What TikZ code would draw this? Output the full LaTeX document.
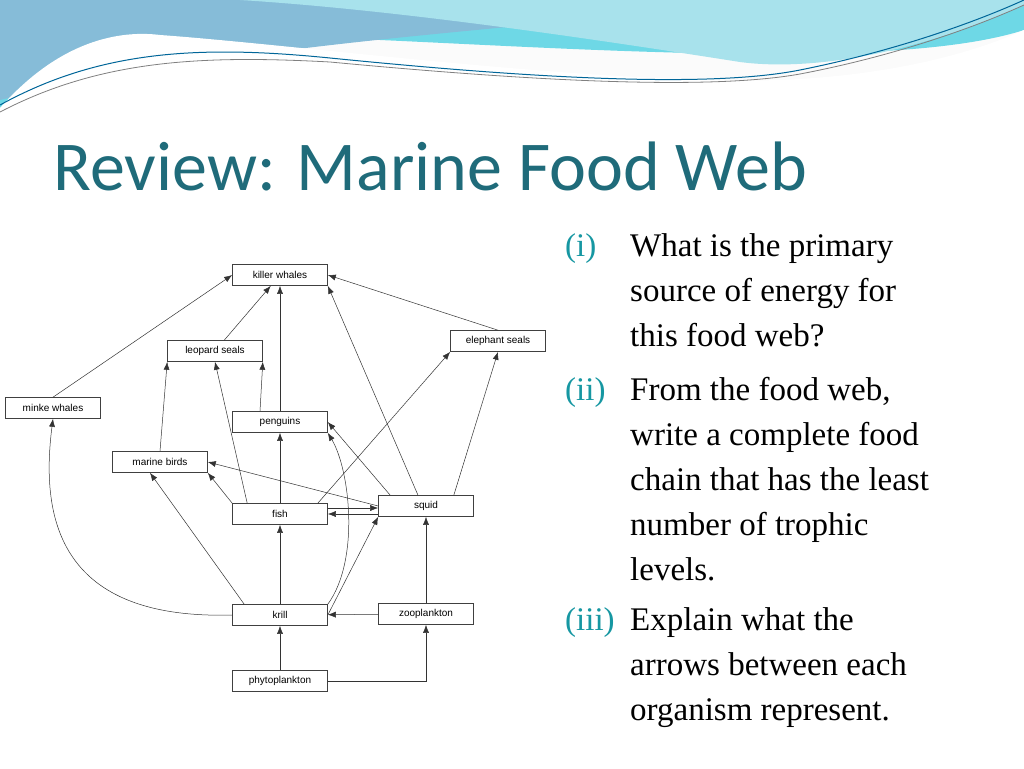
\documentclass[tikz,border=0pt]{standalone}
\usepackage{fontspec}
\setmainfont{Liberation Serif}
\newfontfamily\boxfont{Liberation Sans}
\newfontfamily\titlefont{Carlito}
\usetikzlibrary{arrows.meta}
\definecolor{titlec}{HTML}{1F6B7A}
\definecolor{bandA}{HTML}{86BCD8}
\definecolor{bandB}{HTML}{6ED8E6}
\definecolor{bandC}{HTML}{A8E2EC}
\begin{document}
\begin{tikzpicture}[x=1pt,y=-1pt,
  org/.style={draw=black!75,line width=0.6pt,minimum width=95pt,minimum height=21pt,inner sep=1pt,font=\boxfont\fontsize{10}{11}\selectfont,fill=white},
  ar/.style={-{Latex[length=8pt,width=6pt]},line width=0.5pt,black!80}]
\useasboundingbox (0,0) rectangle (1024,768);
\fill[white!97!gray] (0,0) rectangle (1024,768);
% banner
\fill[bandB] (0,0) -- (1024,0) -- (1024,30) .. controls (900,70) and (600,50) .. (380,40) .. controls (200,30) and (60,60) .. (0,110) -- cycle;
\fill[bandA] (0,0) -- (700,0) .. controls (600,30) and (300,30) .. (0,100) -- cycle;
\fill[white] (0,108) .. controls (60,40) and (120,30) .. (160,35) .. controls (300,45) and (600,85) .. (780,80) .. controls (900,75) and (980,50) .. (1024,30) -- (1024,768) -- (0,768) -- cycle;
\fill[bandC] (240,0) -- (1024,0) -- (1024,5) .. controls (900,60) and (800,70) .. (740,62) .. controls (600,40) and (400,10) .. (240,0) -- cycle;
\draw[teal!80!blue,line width=1pt] (0,105) .. controls (100,50) and (200,45) .. (330,58) .. controls (500,75) and (700,90) .. (800,70) .. controls (900,50) and (980,20) .. (1024,0);
\draw[gray,line width=0.8pt] (0,112) .. controls (100,60) and (200,55) .. (330,62) .. controls (500,78) and (700,92) .. (800,74) .. controls (900,55) and (980,25) .. (1024,5);
% title
\node[anchor=west,text=titlec,font=\titlefont\fontsize{70}{80}\selectfont] (title) at (50,166) {Review: Marine Food Web};
% questions
\begin{scope}[every node/.style={anchor=north west,font=\fontsize{33}{45}\selectfont,inner sep=0pt}]
\node[text=titlec!70!cyan] (q1l) at (565,233) {(i)};
\node[align=left] (q1) at (630,233) {What is the primary\\source of energy for\\this food web?};
\node[text=titlec!70!cyan] (q2l) at (565,377) {(ii)};
\node[align=left] (q2) at (630,377) {From the food web,\\write a complete food\\chain that has the least\\number of trophic\\levels.};
\node[text=titlec!70!cyan] (q3l) at (565,607) {(iii)};
\node[align=left] (q3) at (630,607) {Explain what the\\arrows between each\\organism represent.};
\end{scope}
% organisms
\node[org] (kw) at (280,275) {killer whales};
\node[org] (ls) at (215,351) {leopard seals};
\node[org] (es) at (498,341) {elephant seals};
\node[org] (mw) at (53,408) {minke whales};
\node[org] (pe) at (280,422) {penguins};
\node[org] (mb) at (160,462) {marine birds};
\node[org] (fi) at (280,514) {fish};
\node[org] (sq) at (426,506) {squid};
\node[org] (kr) at (280,615) {krill};
\node[org] (zo) at (426,614) {zooplankton};
\node[org] (ph) at (280,681) {phytoplankton};
% arrows
\draw[ar] (ph) -- (kr);
\draw[ar] (ph.east) -| (zo.south);
\draw[ar] (zo) -- (kr);
\draw[ar] (zo) -- (sq);
\draw[ar] (kr) -- (fi);
\draw[ar] (kr.north west) ++(12,0) coordinate (k1) (k1) -- (mb.south west -| 150,473);
\draw[ar] (kr.west) .. controls (60,620) and (40,520) .. (mw.south);
\draw[ar] (kr.north east) .. controls (360,560) and (350,470) .. (pe.south east);
\draw[ar] (kr.east) -- (sq.south west);
\draw[ar] (fi.north west) -- (mb.south east);
\draw[ar] (fi.north west) ++(15,0) coordinate (f1) (f1) -- (ls.south);
\draw[ar] (fi) -- (pe);
\draw[ar] (fi.north east) ++(-10,0) coordinate (f2) (f2) -- (es.south west);
\draw[ar] ([yshift=6pt]fi.east) coordinate (fa) -- (fa -| sq.west);
\draw[ar] (fi.east -| sq.west) -- (fi.east);
\draw[ar] (pe) -- (kw);
\draw[ar] (pe.north) ++(-20,0) coordinate (p1) (p1) -- (ls.south east);
\draw[ar] (sq.north west) ++(12,0) coordinate (s1) (s1) -- (pe.east);
\draw[ar] (sq.west) -- (mb.east);
\draw[ar] (sq.north) ++(-8,0) coordinate (s2) (s2) -- (kw.south east);
\draw[ar] (sq.north east) ++(-20,0) coordinate (s3) (s3) -- (es.south);
\draw[ar] (mb.north) -- (ls.south west);
\draw[ar] (ls) -- (kw);
\draw[ar] (mw.north) -- (kw.west);
\draw[ar] (es.north) -- (kw.east);
\end{tikzpicture}
\end{document}
